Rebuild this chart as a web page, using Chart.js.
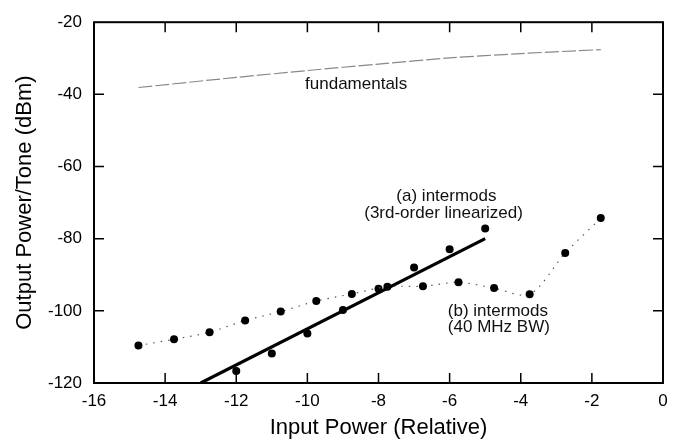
<!DOCTYPE html>
<html>
<head>
<meta charset="utf-8">
<script src="https://cdn.jsdelivr.net/npm/chart.js@4/dist/chart.umd.min.js"></script>
<style>
  html, body { margin: 0; padding: 0; background: #fff; }
  #wrap { width: 678px; height: 443px; }
</style>
</head>
<body>
<div id="wrap"><canvas id="c"></canvas></div>
<script>
// fundamentals (thin gray curve)
const fundX = [-14.75, -12, -10, -8, -6, -4, -1.75];
const fundY = [-38.1, -35.3, -33.4, -31.6, -29.9, -28.7, -27.6];

// (a) intermods, measured points + 3rd-order fit line
const aX = [-12, -11, -10, -9, -8, -7, -6, -5];
const aY = [-116.7, -111.8, -106.3, -99.8, -93.9, -88.0, -82.9, -77.2];
const fitX = [-13, -5];
const fitY = [-120, -80];

// (b) intermods, 40 MHz BW
const bX = [-14.75, -13.75, -12.75, -11.75, -10.75, -9.75, -8.75, -7.75, -6.75, -5.75, -4.75, -3.75, -2.75, -1.75];
const bY = [-109.6, -107.9, -105.9, -102.7, -100.2, -97.3, -95.3, -93.3, -93.2, -92.1, -93.7, -95.4, -84.0, -74.3];

const xTicks = [-16, -14, -12, -10, -8, -6, -4, -2, 0];
const yTicks = [-120, -100, -80, -60, -40, -20];

// in-plot labels, placed at data coordinates
const notes = [
  { text: "fundamentals", x: -8.63, y: -37.3, align: "center" },
  { text: "(a) intermods", x: -6.09, y: -68.3, align: "center" },
  { text: "(3rd-order linearized)", x: -6.17, y: -73.1, align: "center" },
  { text: "(b) intermods", x: -6.05, y: -100.2, align: "left" },
  { text: "(40 MHz BW)", x: -6.05, y: -104.5, align: "left" },
];

const pts = (xs, ys) => xs.map((x, i) => ({ x, y: ys[i] }));
const FONT = "'Liberation Sans', Arial, Helvetica, sans-serif";

// frame + inward ticks on all four sides, and text labels
const framePlugin = {
  id: "frame",
  afterDatasetsDraw(chart) {
    const { ctx, chartArea: a, scales: { x, y } } = chart;
    ctx.save();
    ctx.strokeStyle = "#000";
    ctx.lineWidth = 1.5;
    const len = 10;
    ctx.beginPath();
    xTicks.slice(1, -1).forEach(v => {
      const px = x.getPixelForValue(v);
      ctx.moveTo(px, a.bottom); ctx.lineTo(px, a.bottom - len);
      ctx.moveTo(px, a.top); ctx.lineTo(px, a.top + len);
    });
    yTicks.slice(1, -1).forEach(v => {
      const py = y.getPixelForValue(v);
      ctx.moveTo(a.left, py); ctx.lineTo(a.left + len, py);
      ctx.moveTo(a.right, py); ctx.lineTo(a.right - len, py);
    });
    ctx.stroke();
    ctx.lineWidth = 2;
    ctx.strokeRect(a.left, a.top, a.right - a.left, a.bottom - a.top);

    ctx.fillStyle = "#111";
    ctx.font = "17px " + FONT;
    ctx.textBaseline = "middle";
    notes.forEach(n => {
      ctx.textAlign = n.align;
      ctx.fillText(n.text, x.getPixelForValue(n.x), y.getPixelForValue(n.y));
    });
    ctx.restore();
  }
};

new Chart(document.getElementById("c"), {
  type: "scatter",
  data: {
    datasets: [
      {
        data: pts(fundX, fundY), showLine: true, borderColor: "#888",
        borderWidth: 1.2, borderDash: [14, 3], pointRadius: 0, tension: 0.3
      },
      {
        data: pts(bX, bY), showLine: true, borderColor: "#555",
        borderWidth: 1.2, borderDash: [1.5, 6], pointRadius: 4,
        pointBackgroundColor: "#000", pointBorderWidth: 0, tension: 0.3
      },
      {
        data: pts(fitX, fitY), showLine: true, borderColor: "#000",
        borderWidth: 3.2, pointRadius: 0
      },
      {
        data: pts(aX, aY), showLine: false, pointRadius: 4,
        pointBackgroundColor: "#000", pointBorderWidth: 0
      }
    ]
  },
  options: {
    responsive: true,
    maintainAspectRatio: false,
    animation: false,
    events: [],
    layout: { padding: { top: 14, right: 15, left: 0, bottom: 0 } },
    plugins: { legend: { display: false }, tooltip: { enabled: false } },
    scales: {
      x: {
        type: "linear", min: -16, max: 0,
        afterBuildTicks: s => { s.ticks = xTicks.map(v => ({ value: v })); },
        afterFit: s => { s.height = 60; },
        grid: { display: false, drawTicks: false },
        border: { display: false },
        ticks: { padding: 8, color: "#000", font: { family: FONT, size: 17 } },
        title: {
          display: true, text: "Input Power (Relative)", color: "#000",
          font: { family: FONT, size: 22 }, padding: { bottom: 2 }
        }
      },
      y: {
        type: "linear", min: -120, max: -20,
        afterBuildTicks: s => { s.ticks = yTicks.map(v => ({ value: v })); },
        afterFit: s => { s.width = 94; },
        grid: { display: false, drawTicks: false },
        border: { display: false },
        ticks: { padding: 12, color: "#000", font: { family: FONT, size: 17 } },
        title: {
          display: true, text: "Output Power/Tone (dBm)", color: "#000",
          font: { family: FONT, size: 22 }, padding: { top: 12 }
        }
      }
    }
  },
  plugins: [framePlugin]
});
</script>
</body>
</html>
